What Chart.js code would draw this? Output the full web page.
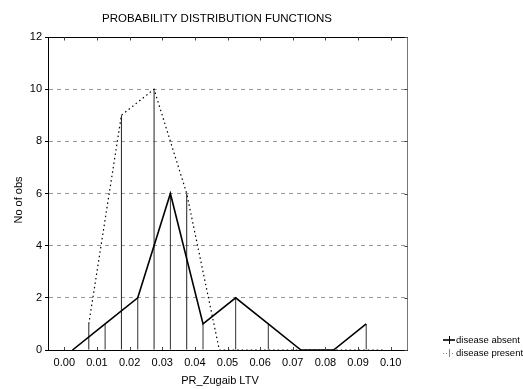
<!DOCTYPE html>
<html>
<head>
<meta charset="utf-8">
<script src="https://cdn.jsdelivr.net/npm/chart.js@4/dist/chart.umd.min.js"></script>
<style>
html,body{margin:0;padding:0;background:#fff;}
#wrap{width:523px;height:389px;position:relative;}
</style>
</head>
<body>
<div id="wrap"><canvas id="c" width="523" height="389"></canvas></div>
<script>
const titleText = 'PROBABILITY DISTRIBUTION FUNCTIONS';
const xTitle = 'PR_Zugaib LTV';
const yTitle = 'No of obs';
const seriesNames = ['disease absent', 'disease present'];
const xTickValues = [0.00, 0.01, 0.02, 0.03, 0.04, 0.05, 0.06, 0.07, 0.08, 0.09, 0.10];
const yTickValues = [0, 2, 4, 6, 8, 10, 12];
const absentX = [0.0025, 0.0125, 0.0225, 0.0325, 0.0425, 0.0525, 0.0625, 0.0725, 0.0825, 0.0925];
const absentY = [0, 1, 2, 6, 1, 2, 1, 0, 0, 1];
const presentX = [0.0075, 0.0175, 0.0275, 0.0375, 0.0475, 0.0575, 0.0675, 0.0775, 0.0875, 0.0975];
const presentY = [1, 9, 10, 6, 0, 0, 0, 0, 0, 0];

const FONT = '"Liberation Sans", Arial, Helvetica, sans-serif';
const absentPts = absentX.map((x, i) => ({x: x, y: absentY[i]}));
const presentPts = presentX.map((x, i) => ({x: x, y: presentY[i]}));

const framePlugin = {
  id: 'frame',
  afterDraw(chart) {
    const {ctx, chartArea: a, scales: {x, y}} = chart;
    const line = (x1, y1, x2, y2) => { ctx.beginPath(); ctx.moveTo(x1, y1); ctx.lineTo(x2, y2); ctx.stroke(); };
    ctx.save();
    ctx.lineWidth = 1;
    const top = Math.round(a.top) + 0.5;
    const right = Math.round(a.right) + 0.5;
    const bottom = Math.round(a.bottom);
    ctx.strokeStyle = '#000';
    line(a.left, top, right + 0.5, top);
    ctx.strokeStyle = '#777';
    line(right, top, right, bottom);
    ctx.strokeStyle = '#444';
    x.ticks.forEach(t => {
      const px = Math.round(x.getPixelForValue(t.value)) + 0.5;
      line(px, top, px, top + 3);
      line(px, bottom - 3, px, bottom);
    });
    y.ticks.forEach(t => {
      const py = Math.round(y.getPixelForValue(t.value)) + 0.5;
      line(right - 3, py, right, py);
    });
    // titles
    ctx.fillStyle = '#000';
    ctx.textAlign = 'center';
    ctx.textBaseline = 'middle';
    ctx.font = '11.5px ' + FONT;
    ctx.fillText(titleText, 217, 19);
    ctx.font = '11px ' + FONT;
    ctx.fillText(xTitle, 220, 381);
    ctx.save();
    ctx.translate(19, 200);
    ctx.rotate(-Math.PI / 2);
    ctx.fillText(yTitle, 0, 0);
    ctx.restore();
    // legend
    const lx = a.right + 36, rows = [a.bottom - 10, a.bottom + 3];
    ctx.strokeStyle = '#000';
    ctx.lineWidth = 1.6;
    line(lx, rows[0], lx + 12, rows[0]);
    ctx.lineWidth = 1;
    line(lx + 6.5, rows[0] - 4, lx + 6.5, rows[0] + 4);
    ctx.strokeStyle = '#888';
    ctx.setLineDash([1, 2]);
    line(lx, rows[1] + 0.5, lx + 12, rows[1] + 0.5);
    ctx.setLineDash([]);
    line(lx + 6.5, rows[1] - 4, lx + 6.5, rows[1] + 4);
    ctx.fillStyle = '#000';
    ctx.textAlign = 'left';
    ctx.font = '9.5px ' + FONT;
    ctx.fillText(chart.data.datasets[0].label, lx + 13, rows[0]);
    ctx.fillText(chart.data.datasets[1].label, lx + 13, rows[1]);
    ctx.restore();
  }
};

new Chart(document.getElementById('c'), {
  type: 'line',
  data: {
    datasets: [
      {type: 'line', label: seriesNames[0], data: absentPts, borderColor: '#000', borderWidth: 1.6,
       pointRadius: 0, tension: 0, fill: false, order: 1},
      {type: 'line', label: seriesNames[1], data: presentPts, borderColor: '#000', borderWidth: 1.2,
       borderDash: [1.5, 3], pointRadius: 0, tension: 0, fill: false, order: 1},
      {type: 'bar', label: seriesNames[0] + ' drops', data: absentPts, backgroundColor: '#333',
       barThickness: 1, grouped: false, borderWidth: 0, inflateAmount: 0, order: 2},
      {type: 'bar', label: seriesNames[1] + ' drops', data: presentPts, backgroundColor: '#222',
       barThickness: 1, grouped: false, borderWidth: 0, inflateAmount: 0, order: 2}
    ]
  },
  options: {
    responsive: false,
    animation: false,
    devicePixelRatio: 1,
    layout: {padding: {top: 37, right: 116, left: 0, bottom: 0}},
    plugins: {legend: {display: false}, title: {display: false}, tooltip: {enabled: false}},
    events: [],
    scales: {
      x: {
        type: 'linear', min: -0.005, max: 0.105, offset: false,
        afterBuildTicks: s => { s.ticks = xTickValues.map(v => ({value: v})); },
        afterFit: s => { s.height = 39; },
        grid: {display: false, drawTicks: false},
        border: {display: true, color: '#000', width: 1},
        ticks: {padding: 6, color: '#000', font: {family: FONT, size: 11},
                callback: v => Number(v).toFixed(2), maxRotation: 0, autoSkip: false}
      },
      y: {
        type: 'linear', min: 0, max: 12,
        afterBuildTicks: s => { s.ticks = yTickValues.map(v => ({value: v})); },
        afterFit: s => { s.width = 48; },
        grid: {
          display: true, drawTicks: true, tickLength: 3, tickColor: '#000', lineWidth: 1,
          color: c => (c.tick && (c.tick.value === 0 || c.tick.value === 12)) ? 'rgba(0,0,0,0)' : '#999'
        },
        border: {display: true, color: '#000', width: 1, dash: [4, 4]},
        ticks: {padding: 3, color: '#000', font: {family: FONT, size: 11},
                callback: v => String(v), autoSkip: false}
      }
    }
  },
  plugins: [framePlugin]
});
</script>
</body>
</html>
